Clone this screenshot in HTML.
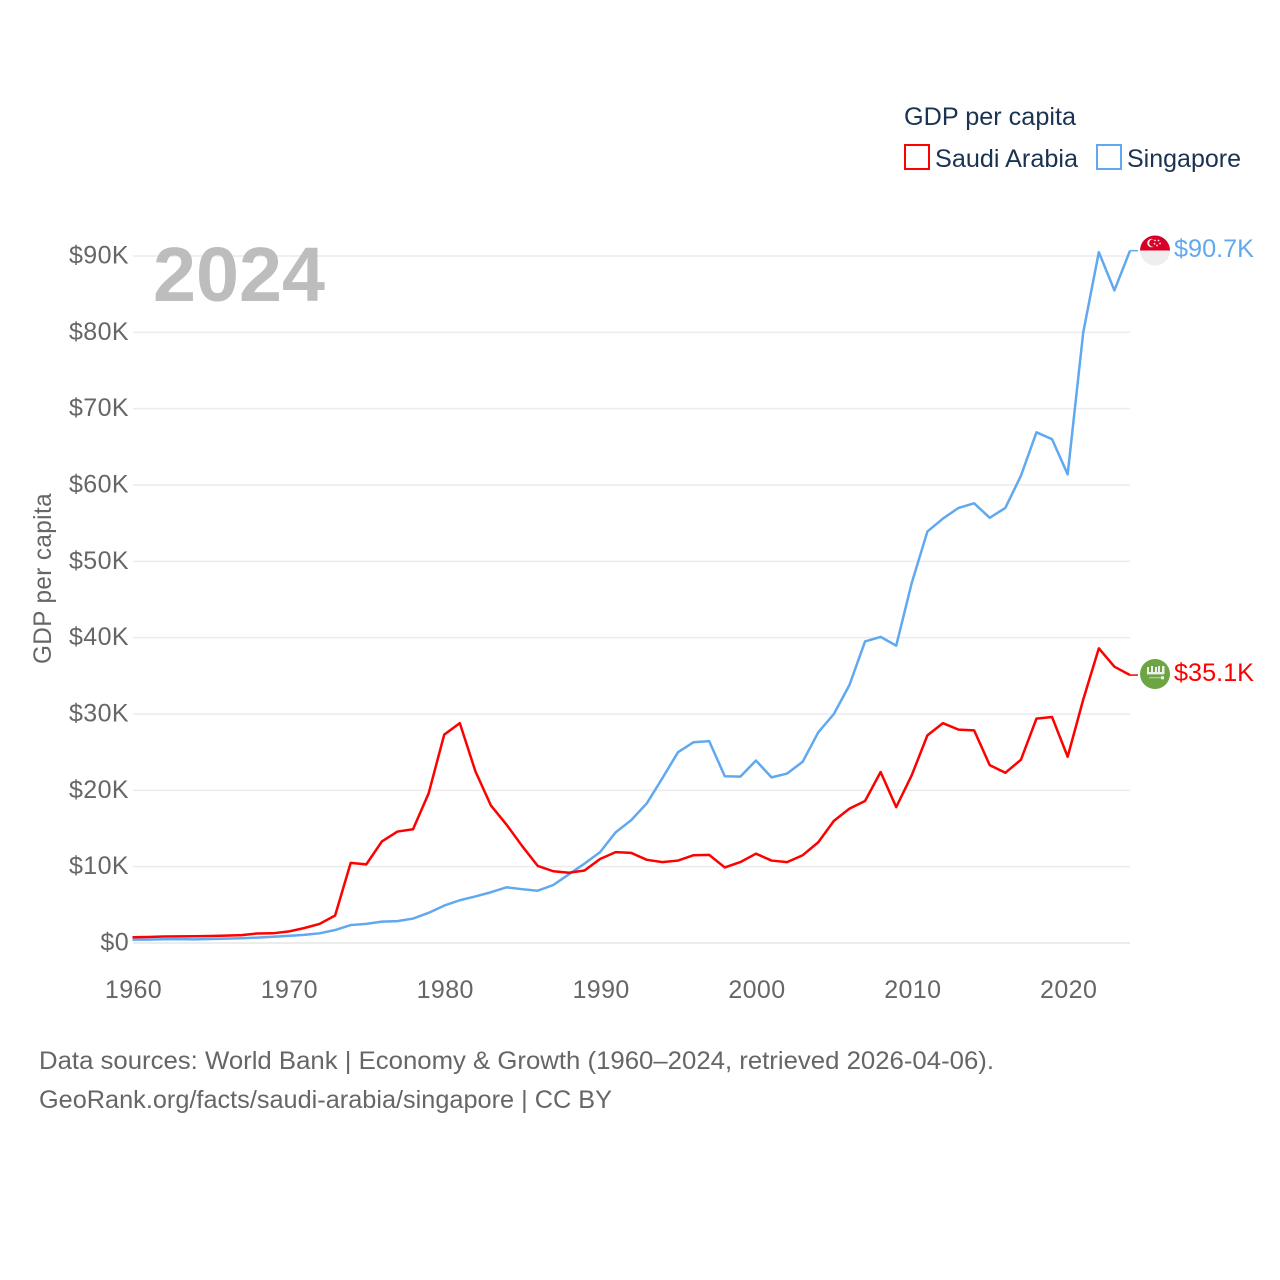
<!DOCTYPE html>
<html lang="en">
<head>
<meta charset="utf-8">
<title>GDP per capita: Saudi Arabia and Singapore</title>
<style>
  html, body { margin: 0; padding: 0; background: #fff; }
  body { width: 1280px; height: 1280px; overflow: hidden; }
  svg { display: block; }
  text { font-family: "Liberation Sans", "DejaVu Sans", sans-serif; }
  .tick { font-size: 25px; fill: #666; letter-spacing: .4px; }
  .legend { font-size: 25px; fill: #1a3352; }
  .foot { font-size: 25px; fill: #666; }
</style>
</head>
<body>
<svg id="chart" xmlns="http://www.w3.org/2000/svg" width="1280" height="1280" viewBox="0 0 1280 1280">
  <rect x="0" y="0" width="1280" height="1280" fill="#fff"/>
  <g id="grid"></g>
  <g id="yticks"></g>
  <g id="xticks"></g>
  <text x="153" y="301" font-size="77" font-weight="700" fill="#bdbdbd" textLength="172" lengthAdjust="spacingAndGlyphs">2024</text>
  <text class="tick" transform="translate(51,664) rotate(-90)" textLength="171" lengthAdjust="spacingAndGlyphs">GDP per capita</text>

  <g id="series"></g>

  <g id="flag-sg">
    <circle cx="1155" cy="250.5" r="15" fill="#eeeeee"/>
    <path d="M1140 250.5a15 15 0 0 1 30 0z" fill="#d80027"/>
    <circle cx="1151.5" cy="243" r="4.3" fill="#eee"/>
    <circle cx="1153" cy="243" r="3.8" fill="#d80027"/>
    <circle cx="1155" cy="240.5" r=".9" fill="#eee"/>
    <circle cx="1158.5" cy="240.5" r=".9" fill="#eee"/>
    <circle cx="1160" cy="243.5" r=".9" fill="#eee"/>
    <circle cx="1157" cy="245.5" r=".9" fill="#eee"/>
    <circle cx="1154.5" cy="243.8" r=".9" fill="#eee"/>
  </g>
  <g id="flag-sa">
    <circle cx="1155" cy="674" r="15" fill="#6da544"/>
    <g fill="#eeeeee">
      <rect x="1147" y="667" width="2" height="7"/>
      <rect x="1151" y="666" width="2" height="8"/>
      <rect x="1155" y="667" width="2" height="7"/>
      <rect x="1158" y="666" width="2" height="8"/>
      <rect x="1162" y="666" width="2.5" height="8"/>
      <rect x="1147" y="672" width="17" height="2.4"/>
      <path d="M1149 677.5h12v-1.2h3v3h-3v-1.2h-12z"/>
    </g>
  </g>

  <text x="1174" y="257" font-size="25" fill="#60a8f0" textLength="80" lengthAdjust="spacingAndGlyphs">$90.7K</text>
  <text x="1174" y="681" font-size="25" fill="#ff0000" textLength="80" lengthAdjust="spacingAndGlyphs">$35.1K</text>

  <text class="legend" x="904" y="125" textLength="172" lengthAdjust="spacingAndGlyphs">GDP per capita</text>
  <g>
    <rect x="905" y="145" width="24" height="24" fill="#fff" stroke="#ff0000" stroke-width="2"/>
    <text class="legend" x="935" y="167" textLength="143" lengthAdjust="spacingAndGlyphs">Saudi Arabia</text>
  </g>
  <g>
    <rect x="1097" y="145" width="24" height="24" fill="#fff" stroke="#60a8f0" stroke-width="2"/>
    <text class="legend" x="1127" y="167" textLength="114" lengthAdjust="spacingAndGlyphs">Singapore</text>
  </g>

  <text class="foot" x="39" y="1069" textLength="955" lengthAdjust="spacingAndGlyphs">Data sources: World Bank | Economy &amp; Growth (1960–2024, retrieved 2026-04-06).</text>
  <text class="foot" x="39" y="1108" textLength="573" lengthAdjust="spacingAndGlyphs">GeoRank.org/facts/saudi-arabia/singapore | CC BY</text>
</svg>

<script>
// Chart data, in thousands of US dollars
const years = [1960,1961,1962,1963,1964,1965,1966,1967,1968,1969,
  1970,1971,1972,1973,1974,1975,1976,1977,1978,1979,
  1980,1981,1982,1983,1984,1985,1986,1987,1988,1989,
  1990,1991,1992,1993,1994,1995,1996,1997,1998,1999,
  2000,2001,2002,2003,2004,2005,2006,2007,2008,2009,
  2010,2011,2012,2013,2014,2015,2016,2017,2018,2019,
  2020,2021,2022,2023,2024];
const saudiArabia = [0.75,0.78,0.85,0.87,0.88,0.92,0.97,1.03,1.25,1.27,
  1.5,1.95,2.5,3.6,10.5,10.3,13.3,14.6,14.9,19.6,
  27.3,28.8,22.5,18.0,15.5,12.7,10.1,9.4,9.2,9.5,
  11.0,11.9,11.8,10.9,10.6,10.8,11.5,11.55,9.9,10.6,
  11.7,10.8,10.6,11.5,13.2,16.0,17.6,18.6,22.4,17.8,
  22.0,27.2,28.8,27.95,27.85,23.3,22.3,24.0,29.4,29.6,
  24.4,31.9,38.6,36.2,35.1];
const singapore = [0.45,0.45,0.49,0.51,0.48,0.52,0.57,0.63,0.71,0.82,
  0.93,1.07,1.27,1.7,2.35,2.5,2.8,2.86,3.2,3.95,
  4.9,5.6,6.1,6.65,7.3,7.05,6.85,7.6,9.0,10.4,
  11.9,14.5,16.1,18.3,21.6,25.0,26.3,26.45,21.85,21.8,
  23.9,21.7,22.2,23.75,27.6,30.0,33.8,39.5,40.1,38.95,
  47.2,53.9,55.6,57.0,57.6,55.7,57.0,61.2,66.9,66.0,
  61.4,80.0,90.5,85.5,90.7];
const yTickValues = [0,10,20,30,40,50,60,70,80,90];
const yTickLabels = ["$0","$10K","$20K","$30K","$40K","$50K","$60K","$70K","$80K","$90K"];
const xTickValues = [1960,1970,1980,1990,2000,2010,2020];

const NS = "http://www.w3.org/2000/svg";
const xScale = function (year) { return 132.5 + (year - 1960) * (1130 - 132.5) / 64; };
const yScale = function (value) { return 943 - value * (943 - 256) / 90; };

function make(tag, parent) {
  const el = document.createElementNS(NS, tag);
  parent.appendChild(el);
  return el;
}

const gridGroup = document.getElementById("grid");
const yGroup = document.getElementById("yticks");
yTickValues.forEach(function (v, i) {
  const line = make("line", gridGroup);
  
  
  line.setAttribute("x1", 133);
  line.setAttribute("x2", 1130);
  line.setAttribute("y1", yScale(v));
  line.setAttribute("y2", yScale(v));
  line.setAttribute("stroke", "#ececec");
  line.setAttribute("stroke-width", v === 0 ? 2 : 1.5);

  const label = make("text", yGroup);
  
  
  label.setAttribute("class", "tick");
  label.setAttribute("x", 129);
  label.setAttribute("y", yScale(v) + 7.5);
  label.setAttribute("text-anchor", "end");
  label.textContent = yTickLabels[i];
});

const xGroup = document.getElementById("xticks");
xTickValues.forEach(function (year) {
  const label = make("text", xGroup);
  
  
  label.setAttribute("class", "tick");
  label.setAttribute("x", xScale(year) + 1);
  label.setAttribute("y", 998);
  label.setAttribute("text-anchor", "middle");
  label.textContent = String(year);
});

function pointsFor(values) {
  return values.map(function (v, i) {
    return xScale(years[i]).toFixed(2) + "," + yScale(v).toFixed(2);
  }).join(" ");
}

const seriesGroup = document.getElementById("series");

const singaporeLine = make("polyline", seriesGroup);


singaporeLine.setAttribute("points", pointsFor(singapore));
singaporeLine.setAttribute("fill", "none");
singaporeLine.setAttribute("stroke", "#60a8f0");
singaporeLine.setAttribute("stroke-width", 2.5);
singaporeLine.setAttribute("stroke-linejoin", "round");

const saudiLine = make("polyline", seriesGroup);


saudiLine.setAttribute("points", pointsFor(saudiArabia));
saudiLine.setAttribute("fill", "none");
saudiLine.setAttribute("stroke", "#ff0000");
saudiLine.setAttribute("stroke-width", 2.5);
saudiLine.setAttribute("stroke-linejoin", "round");

const singaporeConnector = make("line", seriesGroup);


singaporeConnector.setAttribute("x1", xScale(2024));
singaporeConnector.setAttribute("x2", 1138);
singaporeConnector.setAttribute("y1", yScale(singapore[singapore.length - 1]));
singaporeConnector.setAttribute("y2", yScale(singapore[singapore.length - 1]));
singaporeConnector.setAttribute("stroke", "#60a8f0");
singaporeConnector.setAttribute("stroke-width", 1.5);

const saudiConnector = make("line", seriesGroup);


saudiConnector.setAttribute("x1", xScale(2024));
saudiConnector.setAttribute("x2", 1138);
saudiConnector.setAttribute("y1", yScale(saudiArabia[saudiArabia.length - 1]));
saudiConnector.setAttribute("y2", yScale(saudiArabia[saudiArabia.length - 1]));
saudiConnector.setAttribute("stroke", "#ff0000");
saudiConnector.setAttribute("stroke-width", 1.5);
</script>
</body>
</html>
